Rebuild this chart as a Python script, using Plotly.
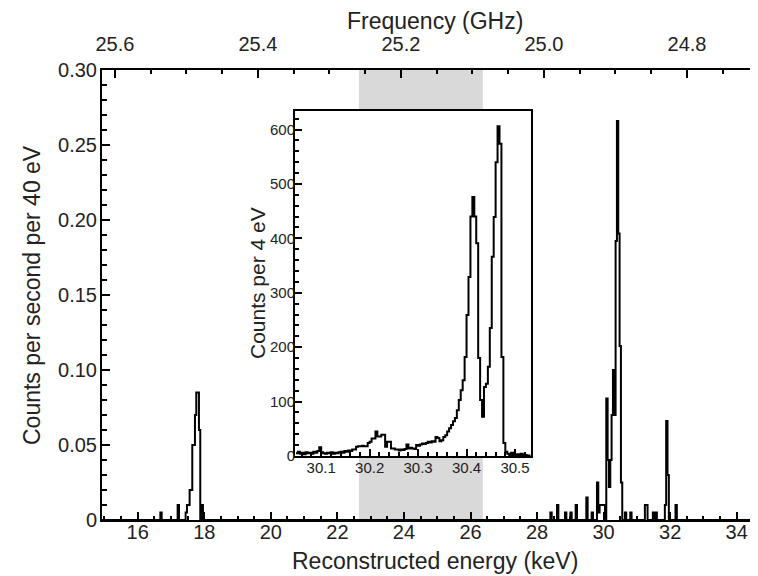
import plotly.graph_objects as go

# ---------------- data ----------------
# Main spectrum: non-zero 40 eV bins (bin centre keV, counts per second per 40 eV)
main_energy = [16.70, 17.22, 17.46, 17.50, 17.54, 17.58, 17.62, 17.66, 17.70, 17.74,
               17.78, 17.82, 17.86, 17.94,
               28.42, 28.62, 28.86, 29.02, 29.18, 29.50, 29.66, 29.82, 29.86, 29.90,
               29.94, 29.98, 30.02, 30.10, 30.14, 30.18, 30.22, 30.26, 30.30, 30.34,
               30.38, 30.42, 30.46, 30.50, 30.54, 30.66, 30.82, 31.26, 31.30, 31.50,
               31.58, 31.86, 31.90, 31.94, 32.18]
main_rate = [0.005, 0.010, 0.005, 0.010, 0.010, 0.020, 0.020, 0.050, 0.050, 0.070,
             0.085, 0.085, 0.060, 0.010,
             0.005, 0.010, 0.005, 0.005, 0.010, 0.015, 0.005, 0.025, 0.005, 0.010,
             0.010, 0.010, 0.010, 0.081, 0.040, 0.022, 0.040, 0.070, 0.100, 0.070,
             0.186, 0.266, 0.191, 0.116, 0.025, 0.005, 0.005, 0.010, 0.010, 0.005,
             0.005, 0.010, 0.066, 0.030, 0.010]
main_bin_start = 14.92
main_bin_width = 0.04
main_bin_count = 494

# Inset: counts per 4 eV, bins starting at 30.048 keV
inset_bin_start = 30.048
inset_bin_width = 0.004
inset_counts = [5, 8, 4, 6, 3, 7, 5, 6, 4, 8,
                6, 9, 16, 7, 5, 4, 6, 5, 7, 4,
                6, 5, 7, 8, 6, 9, 8, 10, 9, 12,
                12, 17, 18, 18, 19, 18, 18, 24, 26, 32,
                32, 45, 36, 36, 39, 39, 17, 26, 26, 14,
                14, 12, 12, 10, 12, 11, 13, 21, 14, 15,
                14, 13, 20, 19, 21, 23, 22, 24, 26, 25,
                27, 26, 35, 33, 27, 29, 35, 38, 45, 51,
                57, 64, 70, 84, 103, 121, 139, 182, 259, 329,
                440, 476, 440, 391, 180, 103, 72, 127, 133, 164,
                235, 366, 439, 540, 606, 574, 182, 24, 8, 4,
                0, 6, 2, 0, 3, 0, 4, 0, 2, 0, 1]

# Axis settings / labels
energy_range = [14.927, 34.639]
freq_range = [25.618, 24.7007]
band_range = [22.65, 26.37]
inset_x_range = [30.046, 30.533]
inset_y_range = [0, 634]
main_y_ticks = [0, 0.05, 0.10, 0.15, 0.20, 0.25, 0.30]
main_y_ticktext = ["0", "0.05", "0.10", "0.15", "0.20", "0.25", "0.30"]

# ---------------- build step data ----------------
counts = [0.0] * main_bin_count
for e, v in zip(main_energy, main_rate):
    idx = int(round((e - main_bin_start) / main_bin_width - 0.5))
    counts[idx] = v
main_edges = [main_bin_start + main_bin_width * k for k in range(main_bin_count + 1)]
main_y = counts + [counts[-1]]

inset_edges = [inset_bin_start + inset_bin_width * k for k in range(len(inset_counts) + 1)]
inset_y = inset_counts + [inset_counts[-1]]

FONT = "Liberation Sans, Arial, Helvetica, sans-serif"
# page is rendered with an 8px body margin
PAGE_OFF = 8
W, H = 750, 568
ML, MT = 94, 62
PW, PH = 656, 450
MR = W - ML - PW
MB = H - MT - PH
PLOT_L, PLOT_T = ML + PAGE_OFF, MT + PAGE_OFF   # page pixel position of plot area


def paper_x(px):
    return (px - PLOT_L) / PW


def paper_y(py):
    return (PLOT_T + PH - py) / PH


fig = go.Figure()

fig.add_trace(go.Scatter(x=main_edges, y=main_y, mode="lines", line_shape="hv",
                         line=dict(color="black", width=2), xaxis="x", yaxis="y",
                         hoverinfo="skip", showlegend=False))
fig.add_trace(go.Scatter(x=freq_range, y=[0, 0], mode="markers", marker=dict(opacity=0),
                         xaxis="x2", yaxis="y", hoverinfo="skip", showlegend=False))
fig.add_trace(go.Scatter(x=inset_edges, y=inset_y, mode="lines", line_shape="hv",
                         line=dict(color="black", width=2), xaxis="x3", yaxis="y3",
                         hoverinfo="skip", showlegend=False))

TXT = "#222"
tickfont = dict(family=FONT, size=20, color=TXT)
insetfont = dict(family=FONT, size=15, color=TXT)
titlefont = dict(family=FONT, size=23, color=TXT)

fig.update_layout(
    width=W, height=H,
    margin=dict(l=ML, r=MR, t=MT, b=MB),
    paper_bgcolor="white", plot_bgcolor="white",
    font=dict(family=FONT, color=TXT),
    xaxis=dict(range=energy_range, domain=[0, 1], showline=True, linecolor="black", linewidth=2,
               ticks="inside", ticklen=8, tickwidth=2, tickcolor="black",
               dtick=2, tick0=0, tickfont=tickfont, ticklabelstandoff=-7,
               showgrid=False, zeroline=False,
               minor=dict(dtick=0.5, tick0=0, ticks="inside", ticklen=4, tickwidth=2, tickcolor="black")),
    xaxis2=dict(range=freq_range, overlaying="x", side="top", anchor="y", showline=True,
                linecolor="black", linewidth=2, ticks="inside", ticklen=8, tickwidth=2, tickcolor="black",
                dtick=0.2, tick0=0, tickformat=".1f", tickfont=tickfont, ticklabelstandoff=9,
                showgrid=False, zeroline=False,
                minor=dict(dtick=0.05, tick0=0, ticks="inside", ticklen=4, tickwidth=2, tickcolor="black")),
    yaxis=dict(range=[0, 0.30], domain=[0, 1], showline=True, linecolor="black", linewidth=2,
               ticks="inside", ticklen=8, tickwidth=2, tickcolor="black",
               tickvals=main_y_ticks, ticktext=main_y_ticktext, tickfont=tickfont,
               ticklabelstandoff=-1, showgrid=False, zeroline=False,
               minor=dict(dtick=0.01, tick0=0, ticks="inside", ticklen=5, tickwidth=2, tickcolor="black")),
    xaxis3=dict(range=inset_x_range, domain=[paper_x(295), paper_x(531)], anchor="y3",
                showline=True, mirror=True, linecolor="black", linewidth=2,
                ticks="inside", ticklen=7, tickwidth=1.5, tickcolor="black",
                dtick=0.1, tick0=0, tickformat=".1f", tickfont=insetfont, ticklabelstandoff=-3,
                showgrid=False, zeroline=False,
                minor=dict(dtick=0.02, tick0=0, ticks="inside", ticklen=4, tickwidth=1.5, tickcolor="black")),
    yaxis3=dict(range=inset_y_range, domain=[paper_y(456), paper_y(111)], anchor="x3",
                showline=True, mirror=True, linecolor="black", linewidth=2,
                ticks="inside", ticklen=7, tickwidth=1.5, tickcolor="black",
                dtick=100, tick0=0, tickfont=insetfont, ticklabelstandoff=-5,
                showgrid=False, zeroline=False,
                minor=dict(dtick=20, tick0=0, ticks="inside", ticklen=4, tickwidth=1.5, tickcolor="black")),
    shapes=[
        dict(type="rect", xref="x", yref="paper", x0=band_range[0], x1=band_range[1], y0=0, y1=1,
             fillcolor="#d9d9d9", line=dict(width=0), layer="below"),
        dict(type="rect", xref="x3 domain", yref="y3 domain", x0=0, x1=1, y0=0, y1=1,
             fillcolor="white", line=dict(width=0), layer="below"),
    ],
    annotations=[
        dict(text="Counts per second per 40 eV", xref="paper", yref="paper",
             x=paper_x(32), y=paper_y(295), xanchor="center", yanchor="middle",
             textangle=-90, showarrow=False, font=titlefont),
        dict(text="Reconstructed energy (keV)", xref="paper", yref="paper",
             x=paper_x(435), y=paper_y(561), xanchor="center", yanchor="middle",
             showarrow=False, font=titlefont),
        dict(text="Frequency (GHz)", xref="paper", yref="paper",
             x=paper_x(435), y=paper_y(21), xanchor="center", yanchor="middle",
             showarrow=False, font=titlefont),
        dict(text="Counts per 4 eV", xref="paper", yref="paper",
             x=paper_x(257), y=paper_y(283), xanchor="center", yanchor="middle",
             textangle=-90, showarrow=False, font=dict(family=FONT, size=21, color=TXT)),
    ],
)

fig.write_html("out.html")
